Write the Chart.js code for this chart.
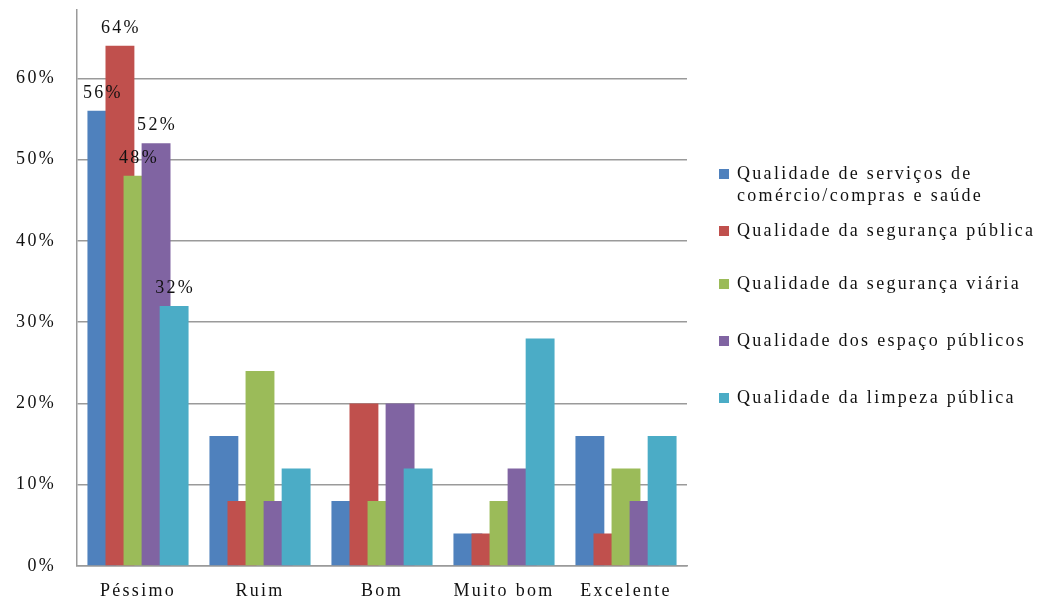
<!DOCTYPE html>
<html>
<head>
<meta charset="utf-8">
<script src="https://cdn.jsdelivr.net/npm/chart.js@4.4.0/dist/chart.umd.min.js"></script>
<style>
  html, body { margin: 0; padding: 0; background: #fff; }
  #wrap { position: relative; width: 1043px; height: 598px; }
  #legend { position: absolute; left: 718px; top: 0; font-family: 'Liberation Serif', serif;
            font-size: 18px; letter-spacing: 2.3px; color: #111; }
  .item { position: absolute; left: 0; width: 318px; line-height: 22px; }
  .item:nth-child(1) { top: 162px; }
  .item:nth-child(2) { top: 219px; }
  .item:nth-child(3) { top: 272px; }
  .item:nth-child(4) { top: 329px; }
  .item:nth-child(5) { top: 386px; }
  .box { position: absolute; left: 1px; top: 7px; width: 10px; height: 10px; }
  .txt { margin-left: 19px; }
</style>
</head>
<body>
<div id="wrap">
  <canvas id="canvas"></canvas>
  <div id="legend"></div>
</div>
<script>
// data
var categories = ['Péssimo', 'Ruim', 'Bom', 'Muito bom', 'Excelente'];
var seriesNames = [
  'Qualidade de serviços de comércio/compras e saúde',
  'Qualidade da segurança pública',
  'Qualidade da segurança viária',
  'Qualidade dos espaço públicos',
  'Qualidade da limpeza pública'
];
var servicos  = [56, 16, 8, 4, 16];
var seguranca = [64, 8, 20, 4, 4];
var viaria    = [48, 24, 8, 8, 12];
var espacos   = [52, 8, 20, 12, 8];
var limpeza   = [32, 12, 12, 28, 16];
var yTicks = [0, 10, 20, 30, 40, 50, 60];
var labelledCategories = ['Péssimo'];   // only these get value labels

var colors = ['#4F81BD', '#C0504D', '#9BBB59', '#8064A2', '#4BACC6'];
var seriesValues = [servicos, seguranca, viaria, espacos, limpeza];

var datasets = seriesValues.map(function (vals, i) {
  return {
    label: seriesNames[i],
    data: vals,
    backgroundColor: colors[i],
    borderWidth: 0,
    categoryPercentage: 0.74,
    barPercentage: 1.6
  };
});

function spacing(chart) {
  chart.ctx.letterSpacing = '2.3px';
}

// Excel draws the later series on top of the earlier ones, and labels above
var overlapPlugin = {
  id: 'overlap',
  beforeUpdate: spacing,
  beforeDraw: spacing,
  beforeDatasetsDraw: function (chart) {
    var metas = chart.getSortedVisibleDatasetMetas();
    metas.forEach(function (meta) { chart._drawDataset(meta); });
    var ctx = chart.ctx;
    ctx.save();
    ctx.font = '18px "Liberation Serif", serif';
    ctx.fillStyle = '#111';
    ctx.textAlign = 'center';
    ctx.textBaseline = 'middle';
    metas.forEach(function (meta) {
      meta.data.forEach(function (bar, j) {
        if (labelledCategories.indexOf(categories[j]) < 0) return;
        var v = chart.data.datasets[meta.index].data[j];
        ctx.fillText(v + '%', bar.x + 1, bar.y - 18);
      });
    });
    ctx.restore();
    return false;
  }
};

var ctx = document.getElementById('canvas').getContext('2d');
window.myBar = new Chart(ctx, {
  type: 'bar',
  data: { labels: categories, datasets: datasets },
  plugins: [overlapPlugin],
  options: {
    responsive: true,
    maintainAspectRatio: false,
    animation: false,
    layout: { padding: { top: 10, right: 356, left: 0, bottom: 0 } },
    plugins: {
      legend: { display: false },
      tooltip: { enabled: false }
    },
    scales: {
      x: {
        grid: { display: false, drawTicks: false },
        border: { display: true, color: '#9a9a9a', width: 1.5 },
        ticks: {
          color: '#111',
          padding: 14,
          font: { family: '"Liberation Serif", serif', size: 18 },
          maxRotation: 0
        },
        afterFit: function (scale) { scale.height = 32; }
      },
      y: {
        min: 0,
        max: 68.4,
        afterBuildTicks: function (scale) {
          scale.ticks = yTicks.map(function (v) { return { value: v }; });
        },
        grid: { color: '#9a9a9a', lineWidth: 1.5, drawTicks: false },
        border: { display: true, color: '#9a9a9a', width: 1.5 },
        ticks: {
          color: '#111',
          padding: 21,
          font: { family: '"Liberation Serif", serif', size: 18 },
          callback: function (v) { return v + '%'; }
        },
        afterFit: function (scale) {
          scale.width = 77;
          scale.paddingTop = 0;
        }
      }
    }
  }
});

// legend built from the chart's own datasets
var legend = document.getElementById('legend');
myBar.data.datasets.forEach(function (ds) {
  var item = document.createElement('div');
  item.className = 'item';
  var box = document.createElement('span');
  box.className = 'box';
  box.style.background = ds.backgroundColor;
  var txt = document.createElement('div');
  txt.className = 'txt';
  txt.textContent = ds.label;
  item.appendChild(box);
  item.appendChild(txt);
  legend.appendChild(item);
});
</script>
</body>
</html>
